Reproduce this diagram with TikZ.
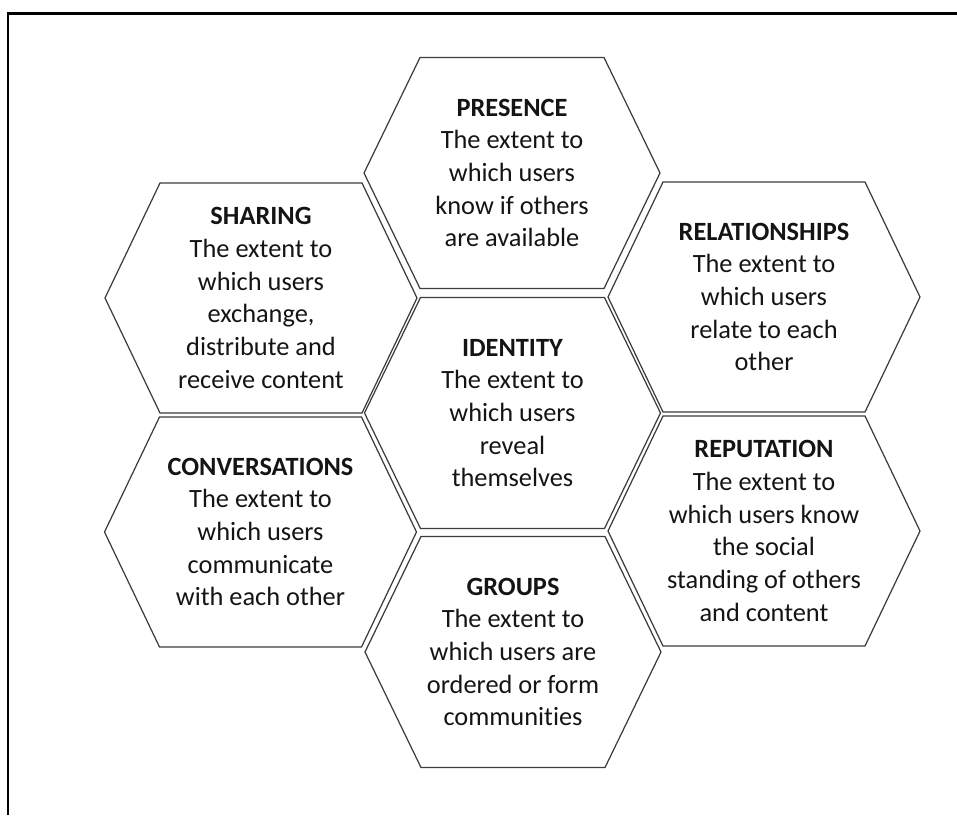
\documentclass[tikz,border=0pt]{standalone}
\usepackage{xcolor}
\usepackage{fontspec}
\setmainfont[Ligatures=NoCommon]{Carlito}
\usepackage{tikz}
\usetikzlibrary{positioning}

\definecolor{edgegray}{RGB}{60,60,60}
\definecolor{textblack}{RGB}{20,20,20}

\begin{document}
\begin{tikzpicture}[
    cell/.style={align=center, inner sep=0pt, text=textblack, font=\fontsize{15}{18.6}\selectfont},
    hexline/.style={draw=edgegray, line width=0.7pt, line join=miter},
    frame/.style={draw=black, line width=1.7pt}
]

\useasboundingbox (0,0) rectangle (19.14,16.3);

% Outer frame (only top and left edges show)
\draw[frame] (0.16,0) |- (19.14,16.03);

% Middle column
\node[cell] (presence) at (10.24,12.84) {\textbf{PRESENCE}\\The extent to\\which users\\know if others\\are available};
\node[cell] (identity) at (10.25,8.04) {\textbf{IDENTITY}\\The extent to\\which users\\reveal\\themselves};
\node[cell] (groups) at (10.26,3.26) {\textbf{GROUPS}\\The extent to\\which users are\\ordered or form\\communities};

% Left column
\node[cell] (sharing) at (5.22,10.34) {\textbf{SHARING}\\The extent to\\which users\\exchange,\\distribute and\\receive content};
\node[cell] (conversations) at (5.21,5.66) {\textbf{CONVERSATIONS}\\The extent to\\which users\\communicate\\with each other};

% Right column
\node[cell] (relationships) at (15.28,10.36) {\textbf{RELATIONSHIPS}\\The extent to\\which users\\relate to each\\other};
\node[cell] (reputation) at (15.28,5.68) {\textbf{REPUTATION}\\The extent to\\which users know\\the social\\standing of others\\and content};

% Hexagon outlines
\foreach \cellname in {presence, identity, groups}
    \draw[hexline, shift={(\cellname)}] (-2.96,0) -- (-1.84,2.31) -- (1.84,2.31) -- (2.96,0) -- (1.84,-2.31) -- (-1.84,-2.31) -- cycle;
\foreach \cellname in {sharing, conversations, relationships, reputation}
    \draw[hexline, shift={(\cellname)}] (-3.12,0) -- (-2.02,2.30) -- (2.02,2.30) -- (3.12,0) -- (2.02,-2.30) -- (-2.02,-2.30) -- cycle;

\end{tikzpicture}
\end{document}
